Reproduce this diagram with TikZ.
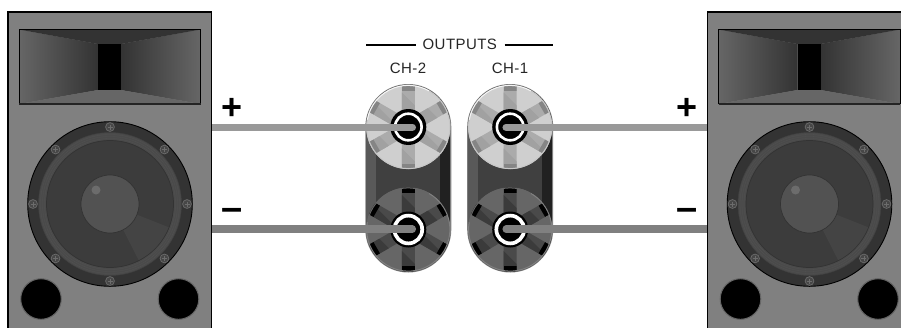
\documentclass[tikz,border=0pt]{standalone}
\usepackage{fontspec}
\usetikzlibrary{calc}
\setmainfont{Liberation Sans}
\newfontfamily\lblfont[LetterSpace=3]{Liberation Sans}
\newfontfamily\signfont{Liberation Sans Bold}
\definecolor{cabinet}{HTML}{808080}
\definecolor{hornDark}{HTML}{333333}
\definecolor{hornLight}{HTML}{666666}
\definecolor{rimC}{HTML}{333333}
\definecolor{surroundC}{HTML}{4A4A4A}
\definecolor{coneC}{HTML}{3C3C3C}
\definecolor{wedgeC}{HTML}{444444}
\definecolor{capC}{HTML}{525252}
\definecolor{hiliteC}{HTML}{6C6C6C}
\definecolor{wireHi}{HTML}{999999}
\definecolor{wireLo}{HTML}{808080}
\tikzset{
  x=1pt,y=-1pt,
  wirehi/.style={line width=7.5pt,draw=wireHi,line cap=round},
  wirelo/.style={line width=7.5pt,draw=wireLo,line cap=round},
  lbl/.style={font=\lblfont\fontsize{15}{16}\selectfont,text=black!85,inner sep=0pt},
  sign/.style={font=\signfont\fontsize{36}{36}\selectfont,inner sep=0pt},
  dash sign/.style={font=\signfont\fontsize{38}{38}\selectfont,inner sep=0pt},
  rule/.style={line width=2.4pt,black},
  screw/.pic={
    \draw[gray!85!black,line width=.7pt,fill=rimC!90!white] (0,0) circle[radius=4.4pt];
    \draw[gray!85!black,line width=.8pt] (-2.5,0)--(2.5,0) (0,-2.5)--(0,2.5);
  },
  speaker/.pic={
    \fill[cabinet] (8,12) rectangle (211.5,340);
    \draw[black,line width=1.5pt] (8,340)--(8,12)--(211.5,12)--(211.5,340);
    \shade[left color=hornLight,right color=hornDark] (19,29.5)--(98,44)--(98,90)--(19,104)--cycle;
    \shade[left color=hornDark,right color=hornLight] (121,44)--(200.5,29.5)--(200.5,104)--(121,90)--cycle;
    \fill[hornDark] (19,29.5)--(200.5,29.5)--(121,44)--(98,44)--cycle;
    \fill[hornLight] (19,104)--(200.5,104)--(121,90)--(98,90)--cycle;
    \fill[black] (98,44) rectangle (121,90);
    \draw[black,line width=.9pt] (19,104)--(19,29.5)--(200.5,29.5)--(200.5,104);
    \draw[hornDark!70!black,line width=1.2pt] (19,104)--(200.5,104);
    \begin{scope}[shift={(110,204)}]
      \draw[black,line width=.9pt,fill=rimC] (0,0) circle[radius=82.3pt];
      \draw[black!75,line width=.5pt,fill=surroundC] (0,0) circle[radius=71.5pt];
      \foreach \r in {65.5,67.5,69.5}{\draw[black!68,line width=.3pt] (0,0) circle[radius=\r pt];}
      \draw[black!80,line width=.7pt,fill=coneC] (0,0) circle[radius=63.5pt];
      \fill[wedgeC] (0,0)--(-21.6:63pt) arc[start angle=-21.6,end angle=-63,radius=63pt]--cycle;
      \draw[black!80,line width=.7pt,fill=capC] (0,0) circle[radius=29pt];
      \fill[hiliteC] (-14,-14) circle[radius=4.5pt];
      \foreach \a in {0,45,...,315}{\pic at (\a:77pt) {screw};}
    \end{scope}
    \foreach \px in {41,178.5}{\draw[hornLight,line width=1pt,fill=black] (\px,299) circle[radius=20.3pt];}
  },
  terminal/.pic={
    \begin{scope}
      \clip (0,0) circle[radius=42pt];
      \fill[\tdisc] (0,0) circle[radius=42pt];
      \foreach \a in {90,30,-30,-90,-150,150}{
        \pgfmathsetmacro\mx{28*cos(\a)}
        \pgfmathsetmacro\my{-28*sin(\a)}
        \begin{scope}
          \clip[rotate=\a] (0pt,-6.5pt)--(50pt,-6.5pt)--(50pt,6.5pt)--(0pt,6.5pt)--cycle;
          \fill[\tspoke] (-50,-50) rectangle (50,50);
          \fill[\tshadow] (\mx-70,\my-70)--(\mx+70,\my+70)--(\mx-70,\my+70)--cycle;
          \fill[\tend,rotate=\a] (36.5pt,-6.5pt)--(50pt,-6.5pt)--(50pt,6.5pt)--(36.5pt,6.5pt)--cycle;
        \end{scope}}
    \end{scope}
    \draw[\tedge,line width=1pt] (170:41.6pt) arc[start angle=170,end angle=60,radius=41.6pt];
    \draw[\tedgeb,line width=1pt] (60:41.6pt) arc[start angle=60,end angle=-190,radius=41.6pt];
    \fill[black] (0,0) circle[radius=18pt];
    \draw[white,line width=\tringw pt] (0,0) circle[radius=\tringr pt];
  }
}
\newcommand\tdisc{gray}\newcommand\tspoke{gray}\newcommand\tshadow{gray}\newcommand\tend{gray}\newcommand\tedge{gray}\newcommand\tedgeb{gray}
\newcommand\tringw{3}\newcommand\tringr{13}
\begin{document}
\begin{tikzpicture}
\clip (0,0) rectangle (901,327);
\fill[white] (0,0) rectangle (901,327);
\foreach \cx/\nm in {408.3/b,510.2/a}{
  \fill[black!50] ([xshift=-43pt]\cx,127) arc[start angle=180,end angle=0,radius=43pt]
     --(\cx+43,229.5) arc[start angle=0,end angle=-180,radius=43pt]--cycle;
  \begin{scope}
   \clip ([xshift=-42.3pt]\cx,127) arc[start angle=180,end angle=0,radius=42.3pt]
     --(\cx+42.3,229.5) arc[start angle=0,end angle=-180,radius=42.3pt]--cycle;
   \fill[black!65] (\cx-43,85) rectangle (\cx-32,272);
   \fill[black!75] (\cx-32,85) rectangle (\cx+32,272);
   \fill[black!87] (\cx+32,85) rectangle (\cx+43,272);
  \end{scope}
  \renewcommand\tdisc{black!19}\renewcommand\tspoke{black!33}\renewcommand\tshadow{black!37}\renewcommand\tend{black!48}\renewcommand\tedge{black!4}\renewcommand\tedgeb{black!22}
  \renewcommand\tringw{2.6}\renewcommand\tringr{13.3}
  \pic at (\cx,127) {terminal};
  \renewcommand\tdisc{black!60}\renewcommand\tspoke{black!71}\renewcommand\tshadow{black!77}\renewcommand\tend{black}\renewcommand\tedge{black!60}\renewcommand\tedgeb{black!50}
  \renewcommand\tringw{3.7}\renewcommand\tringr{13.9}
  \pic at (\cx,229.5) {terminal};
  \coordinate (hi\nm) at (\cx,127.3);
  \coordinate (lo\nm) at (\cx,229.2);
}
\coordinate (spkLhi) at (205,127.3);
\coordinate (spkLlo) at (205,229.2);
\coordinate (spkRhi) at (712,127.3);
\coordinate (spkRlo) at (712,229.2);
\draw[wirehi] (spkLhi)--([xshift=4pt]hib);
\draw[wirelo] (spkLlo)--([xshift=4pt]lob);
\draw[wirehi] (spkRhi)--([xshift=-4pt]hia);
\draw[wirelo] (spkRlo)--([xshift=-4pt]loa);
\pic at (0,0) {speaker};
\pic at (699.5,0) {speaker};
\node[lbl] (out) at (459.8,44.7) {OUTPUTS};
\node[lbl] (ch2) at (408,68.3) {CH-2};
\node[lbl] (ch1) at (510,68.3) {CH-1};
\draw[rule] (366,44.7)--(415.5,44.7);
\draw[rule] (504.7,44.7)--(552.7,44.7);
\node[sign] (pl) at (231.7,109) {+};
\node[sign] (pr) at (686.7,109) {+};
\node[dash sign] (ml) at (232,214) {–};
\node[dash sign] (mr) at (686.7,214) {–};
\end{tikzpicture}
\end{document}
